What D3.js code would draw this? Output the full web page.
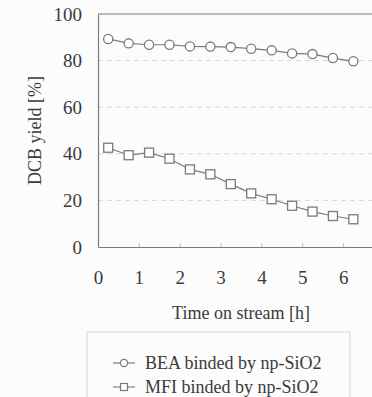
<!DOCTYPE html>
<html>
<head>
<meta charset="utf-8">
<script src="https://cdn.jsdelivr.net/npm/d3@7"></script>
<style>
  body { margin: 0; background: #fcfcfc; }
  svg { display: block; }
</style>
</head>
<body>
<svg id="chart" width="372" height="397"></svg>
<script>
// time on stream [h]
var times = [0.25, 0.75, 1.25, 1.75, 2.25, 2.75, 3.25, 3.75, 4.25, 4.75, 5.25, 5.75, 6.25];
// DCB yield [%]
var beaYield = [89.3, 87.4, 86.8, 86.8, 86.1, 86.0, 85.8, 85.1, 84.4, 83.1, 82.8, 81.1, 79.7];
var mfiYield = [42.6, 39.4, 40.5, 37.9, 33.3, 31.2, 27.0, 23.0, 20.5, 17.7, 15.2, 13.3, 11.9];
var seriesNames = ["BEA binded by np-SiO2", "MFI binded by np-SiO2"];
var xTicks = [0, 1, 2, 3, 4, 5, 6];
var yTicks = [0, 20, 40, 60, 80, 100];

var serif = '"Liberation Serif", "Times New Roman", "DejaVu Serif", serif';
var grey = "#7a7a7a";
var textCol = "#3a3a3a";

var margin = {top: 14, left: 98},
    width = 286,
    height = 233;

var svg = d3.select("#chart");
var g = svg.append("g")
  .attr("transform", "translate(" + margin.left + "," + margin.top + ")");

var x = d3.scaleLinear().domain([0, 7]).range([0, width]);
var y = d3.scaleLinear().domain([0, 100]).range([height, 0]);

// dashed grid
g.selectAll(".grid")
  .data(yTicks.filter(function(d){ return d > 0 && d < 100; }))
  .enter().append("line")
  .attr("x1", 0).attr("x2", width)
  .attr("y1", function(d){ return y(d); })
  .attr("y2", function(d){ return y(d); })
  .attr("stroke", "#d6d6d6")
  .attr("stroke-width", 1)
  .attr("stroke-dasharray", "5,4");

// top border
g.append("line")
  .attr("x1", 0).attr("x2", width)
  .attr("y1", y(100)).attr("y2", y(100))
  .attr("stroke", grey).attr("stroke-width", 1.2);

// axes
var xAxis = g.append("g")
  .attr("transform", "translate(0," + height + ")")
  .call(d3.axisBottom(x).tickValues(xTicks).tickFormat(d3.format("d"))
    .tickSizeInner(-4).tickSizeOuter(0));
xAxis.attr("font-family", serif).attr("font-size", null);
xAxis.select(".domain").attr("stroke", grey).attr("stroke-width", 1.2);
xAxis.selectAll(".tick line").attr("stroke", "#bbb");
xAxis.selectAll(".tick text")
  .attr("y", 37).attr("dy", null)
  .attr("fill", textCol)
  .style("font-family", serif)
  .style("font-size", "19px");

var yAxis = g.append("g")
  .call(d3.axisLeft(y).tickValues(yTicks).tickFormat(d3.format("d")).tickSize(0).tickPadding(16));
yAxis.attr("font-family", serif).attr("font-size", null);
yAxis.select(".domain").attr("stroke", grey).attr("stroke-width", 1.2);
yAxis.selectAll(".tick text")
  .attr("fill", textCol)
  .style("font-family", serif)
  .style("font-size", "19px");

// axis titles
svg.append("text")
  .attr("x", margin.left + x(3.5))
  .attr("y", 319)
  .attr("text-anchor", "middle")
  .attr("fill", textCol)
  .style("font-family", serif)
  .style("font-size", "18px")
  .text("Time on stream [h]");

svg.append("text")
  .attr("transform", "translate(41," + (margin.top + y(50)) + ") rotate(-90)")
  .attr("text-anchor", "middle")
  .attr("fill", textCol)
  .style("font-family", serif)
  .style("font-size", "18px")
  .text("DCB yield [%]");

// series
var line = d3.line()
  .x(function(d){ return x(d[0]); })
  .y(function(d){ return y(d[1]); });

var beaData = times.map(function(t, i){ return [t, beaYield[i]]; });
var mfiData = times.map(function(t, i){ return [t, mfiYield[i]]; });

g.append("path").datum(beaData)
  .attr("d", line).attr("fill", "none")
  .attr("stroke", grey).attr("stroke-width", 1.2);
g.append("path").datum(mfiData)
  .attr("d", line).attr("fill", "none")
  .attr("stroke", grey).attr("stroke-width", 1.2);

g.selectAll(".bea")
  .data(beaData).enter().append("circle")
  .attr("cx", function(d){ return x(d[0]); })
  .attr("cy", function(d){ return y(d[1]); })
  .attr("r", 4.6)
  .attr("fill", "#fff").attr("stroke", grey).attr("stroke-width", 1.3);

g.selectAll(".mfi")
  .data(mfiData).enter().append("rect")
  .attr("x", function(d){ return x(d[0]) - 4.5; })
  .attr("y", function(d){ return y(d[1]) - 4.5; })
  .attr("width", 9).attr("height", 9)
  .attr("fill", "#fff").attr("stroke", grey).attr("stroke-width", 1.3);

// legend
var leg = svg.append("g");
leg.append("rect")
  .attr("x", 87).attr("y", 332)
  .attr("width", 263).attr("height", 80)
  .attr("fill", "none").attr("stroke", "#d4d4d4").attr("stroke-width", 1);

seriesNames.forEach(function(name, i){
  var ly = 363 + i * 24;
  leg.append("line")
    .attr("x1", 113).attr("x2", 135)
    .attr("y1", ly).attr("y2", ly)
    .attr("stroke", grey).attr("stroke-width", 1.2);
  if (i == 0) {
    leg.append("circle").attr("cx", 124).attr("cy", ly).attr("r", 3.6)
      .attr("fill", "#fff").attr("stroke", grey).attr("stroke-width", 1.2);
  } else {
    leg.append("rect").attr("x", 120.5).attr("y", ly - 3.5).attr("width", 7).attr("height", 7)
      .attr("fill", "#fff").attr("stroke", grey).attr("stroke-width", 1.2);
  }
  leg.append("text")
    .attr("x", 145).attr("y", ly).attr("dy", "0.35em")
    .attr("fill", textCol)
    .style("font-family", serif)
    .style("font-size", "18px")
    .text(name);
});
</script>
</body>
</html>
